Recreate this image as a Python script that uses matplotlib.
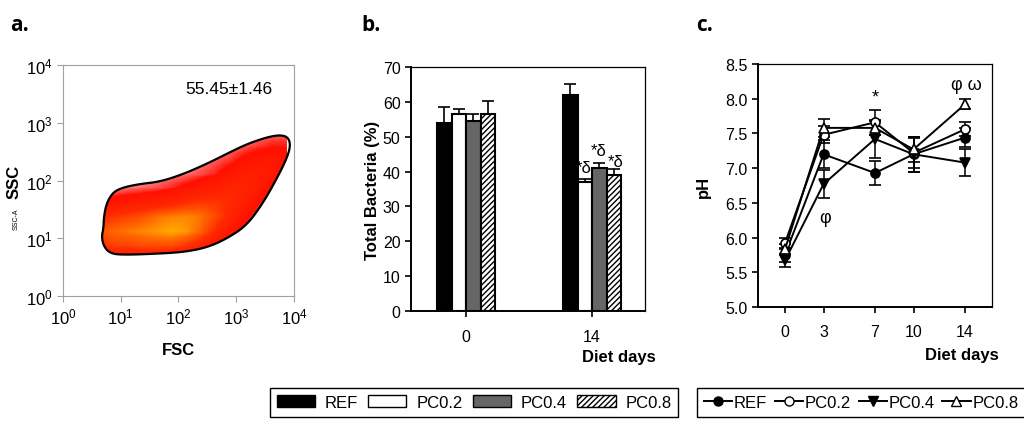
import numpy as np
import matplotlib.pyplot as plt
from matplotlib.colors import LinearSegmentedColormap
from matplotlib.patches import Polygon, Patch
from matplotlib.lines import Line2D

plt.rcParams['font.family'] = ['Liberation Sans', 'DejaVu Sans']
plt.rcParams['hatch.linewidth'] = 1.0

# ---- panel a: gate outline and event density (log10 FSC / log10 SSC)
gate_x = [0.70, 0.67, 0.70, 0.81, 1.04, 1.80, 2.14, 2.49, 2.83, 3.18, 3.47, 3.70, 3.87, 3.94,
          3.90, 3.76, 3.53, 3.18, 2.83, 2.49, 2.08, 1.68, 1.33, 1.04, 0.87, 0.76, 0.71]
gate_y = [1.16, 1.04, 0.87, 0.74, 0.71, 0.74, 0.77, 0.84, 0.99, 1.22, 1.62, 2.03, 2.37, 2.60,
          2.75, 2.79, 2.75, 2.63, 2.46, 2.29, 2.11, 1.98, 1.94, 1.88, 1.80, 1.62, 1.39]
dens_x = [0.625, 0.875, 1.125, 1.375, 1.625, 1.875, 2.125, 2.375, 2.625, 2.875, 3.125, 3.375, 3.625, 3.875]
dens_y = [0.625, 0.875, 1.125, 1.375, 1.625, 1.875, 2.125, 2.375, 2.625, 2.875]
density = [
    [0.20, 0.25, 0.25, 0.25, 0.25, 0.20, 0.15, 0.10, 0.05, 0.00, 0.00, 0.00, 0.00, 0.00],
    [0.55, 0.65, 0.65, 0.70, 0.70, 0.70, 0.60, 0.45, 0.25, 0.10, 0.00, 0.00, 0.00, 0.00],
    [0.70, 0.80, 0.85, 0.90, 0.95, 1.00, 0.95, 0.80, 0.55, 0.30, 0.10, 0.00, 0.00, 0.00],
    [0.50, 0.60, 0.65, 0.72, 0.82, 0.88, 0.90, 0.85, 0.70, 0.50, 0.25, 0.08, 0.00, 0.00],
    [0.18, 0.25, 0.30, 0.35, 0.40, 0.45, 0.55, 0.60, 0.60, 0.55, 0.40, 0.20, 0.05, 0.00],
    [0.00, 0.04, 0.06, 0.08, 0.10, 0.15, 0.22, 0.30, 0.38, 0.45, 0.45, 0.35, 0.15, 0.05],
    [0.00, 0.00, 0.00, 0.00, 0.02, 0.04, 0.06, 0.10, 0.15, 0.25, 0.35, 0.38, 0.30, 0.15],
    [0.00, 0.00, 0.00, 0.00, 0.00, 0.00, 0.02, 0.04, 0.08, 0.12, 0.20, 0.26, 0.28, 0.22],
    [0.00, 0.00, 0.00, 0.00, 0.00, 0.00, 0.00, 0.00, 0.02, 0.04, 0.08, 0.12, 0.16, 0.16],
    [0.00, 0.00, 0.00, 0.00, 0.00, 0.00, 0.00, 0.00, 0.00, 0.00, 0.00, 0.02, 0.05, 0.05],
]
gate_label = '55.45±1.46'

# ---- panel b: total bacteria (%)
diets = ['REF', 'PC0.2', 'PC0.4', 'PC0.8']
bact_days = ['0', '14']
ref_bact = [54.0, 62.0]
pc02_bact = [56.5, 37.0]
pc04_bact = [54.5, 41.0]
pc08_bact = [56.5, 39.0]
ref_bact_err = [4.5, 3.0]
pc02_bact_err = [1.5, 1.0]
pc04_bact_err = [2.0, 1.5]
pc08_bact_err = [3.8, 1.8]

# ---- panel c: pH
days = [0, 3, 7, 10, 14]
ref_ph = [5.75, 7.20, 6.93, 7.20, 7.44]
pc02_ph = [5.92, 7.48, 7.66, 7.22, 7.56]
pc04_ph = [5.67, 6.77, 7.42, 7.20, 7.08]
pc08_ph = [5.83, 7.58, 7.58, 7.27, 7.92]
ref_ph_err = [0.10, 0.20, 0.17, 0.25, 0.14]
pc02_ph_err = [0.08, 0.12, 0.18, 0.22, 0.10]
pc04_ph_err = [0.10, 0.20, 0.28, 0.25, 0.20]
pc08_ph_err = [0.08, 0.13, 0.10, 0.18, 0.07]

fig = plt.figure(figsize=(10.24, 4.39), dpi=100)

# ================= a =================
ax1 = fig.add_axes([0.0615, 0.3235, 0.2256, 0.526])
ax1.set_xscale('log')
ax1.set_yscale('log')
ax1.set_xlim(1, 1e4)
ax1.set_ylim(1, 1e4)

xf = np.linspace(0.45, 4.05, 240)
yf = np.linspace(0.45, 3.1, 180)
dens = np.array(density)
rows = np.array([np.interp(xf, dens_x, r, left=r[0], right=0) for r in dens])
grid = np.array([np.interp(yf, dens_y, rows[:, j], left=rows[0, j], right=0) for j in range(len(xf))]).T
grid = np.ma.masked_less(grid, 0.04)
cmap = LinearSegmentedColormap.from_list('fc', [(0.0, '#ffd0d0'), (0.08, '#ff6060'), (0.18, '#ff1000'),
                                                (0.55, '#ff2a00'), (0.8, '#ff6400'), (1.0, '#ffaa00')])
mesh = ax1.pcolormesh(10 ** xf, 10 ** yf, grid, cmap=cmap, vmin=0, vmax=1, shading='auto', rasterized=True)

# smooth gate outline (Chaikin corner cutting)
pts = np.column_stack([gate_x, gate_y])
for _ in range(3):
    nxt = np.roll(pts, -1, axis=0)
    a = 0.75 * pts + 0.25 * nxt
    b = 0.25 * pts + 0.75 * nxt
    pts = np.stack([a, b], axis=1).reshape(-1, 2)
gate = Polygon(10 ** pts, closed=True, fill=False, edgecolor='black', lw=1.6, zorder=3)
ax1.add_patch(gate)
clip = Polygon(10 ** pts, closed=True, transform=ax1.transData)
mesh.set_clip_path(clip)

for s in ax1.spines.values():
    s.set_color('#a0a0a0')
ax1.tick_params(which='major', color='#a0a0a0', length=4, labelsize=12)
ax1.tick_params(which='minor', length=0)
ax1.set_xticks([1, 10, 100, 1000, 10000])
ax1.set_yticks([1, 10, 100, 1000, 10000])
ax1.text(0.53, 0.9, gate_label, transform=ax1.transAxes, fontsize=12.5, va='center')
ax1.set_xlabel('FSC', fontsize=12, fontweight='bold', labelpad=11)
ax1.set_ylabel('SSC', fontsize=12, fontweight='bold', labelpad=3)
fig.text(0.012, 0.5, 'SSC-A', fontsize=5, rotation=90, va='center')

# ================= b =================
ax2 = fig.add_axes([0.4014, 0.2893, 0.2285, 0.5558])
w = 0.115
xb = np.arange(len(bact_days))
bvals = [ref_bact, pc02_bact, pc04_bact, pc08_bact]
berrs = [ref_bact_err, pc02_bact_err, pc04_bact_err, pc08_bact_err]
faces = ['black', 'white', '#666666', 'white']
hatches = [None, None, None, '//////']
for i in range(4):
    pos = xb + (i - 1.5) * w
    ax2.bar(pos, bvals[i], width=w, color=faces[i], edgecolor='black', lw=1.5, hatch=hatches[i], zorder=2)
    ax2.errorbar(pos, bvals[i], yerr=[[0] * len(xb), berrs[i]], fmt='none', ecolor='black',
                 elinewidth=1.2, capsize=4, capthick=1.2, zorder=1)
ax2.set_xlim(-0.437, 1.42)
ax2.set_ylim(0, 70)
ax2.set_yticks(range(0, 71, 10))
ax2.set_xticks(xb)
ax2.set_xticklabels(bact_days)
ax2.tick_params(labelsize=11.5, length=4, width=1.2)
ax2.tick_params(axis='x', pad=9)
for k in ['left', 'bottom']:
    ax2.spines[k].set_linewidth(1.4)
for k in ['top', 'right']:
    ax2.spines[k].set_linewidth(0.9)
ax2.set_ylabel('Total Bacteria (%)', fontsize=12, fontweight='bold', labelpad=2)
fig.text(0.568, 0.185, 'Diet days', fontsize=12, fontweight='bold', va='center')
for xp, yp in [(0.935, 41.3), (1.055, 46.0), (1.185, 43.0)]:
    ax2.text(xp, yp, '*δ', fontsize=12, ha='center', va='center', zorder=5)

# ================= c =================
ax3 = fig.add_axes([0.7402, 0.2984, 0.2285, 0.5535])
series = [(ref_ph, ref_ph_err, 'o', 'black'), (pc02_ph, pc02_ph_err, 'o', 'white'),
          (pc04_ph, pc04_ph_err, 'v', 'black'), (pc08_ph, pc08_ph_err, '^', 'white')]
handles = []
for (vals, errs, mk, fc), name in zip(series, diets):
    ax3.errorbar(days, vals, yerr=errs, color='black', lw=1.4, marker=mk, markersize=6.5,
                 markerfacecolor=fc, markeredgecolor='black', markeredgewidth=1.2,
                 capsize=4, elinewidth=1.1, capthick=1.1)
    handles.append(Line2D([], [], color='black', lw=1.4, marker=mk, markersize=6.5,
                          markerfacecolor=fc, markeredgecolor='black', label=name))
ax3.set_xlim(-2.1, 16.1)
ax3.set_ylim(5.0, 8.5)
ax3.set_xticks(days)
ax3.set_yticks(np.arange(5.0, 8.51, 0.5))
ax3.set_yticklabels(['%.1f' % v for v in np.arange(5.0, 8.51, 0.5)])
ax3.tick_params(labelsize=11.5, length=4, width=1.2)
ax3.tick_params(axis='x', pad=8)
for k in ['left', 'bottom']:
    ax3.spines[k].set_linewidth(1.4)
for k in ['top', 'right']:
    ax3.spines[k].set_linewidth(0.9)
ax3.set_ylabel('pH', fontsize=12, fontweight='bold', labelpad=10)
fig.text(0.903, 0.19, 'Diet days', fontsize=12, fontweight='bold', va='center')
ax3.text(7, 8.03, '*', fontsize=13, ha='center', va='center')
ax3.text(14.1, 8.2, 'φ ω', fontsize=13, ha='center', va='center')
ax3.text(3.1, 6.29, 'φ', fontsize=13, ha='center', va='center')

# panel letters
for xp, letter in [(0.01, 'a.'), (0.353, 'b.'), (0.68, 'c.')]:
    fig.text(xp, 0.943, letter, fontsize=15, fontweight='bold', va='center', family=['Open Sans', 'DejaVu Sans'])

# legends
bar_handles = [Patch(facecolor=f, edgecolor='black', hatch=h, label=n) for f, h, n in zip(faces, hatches, diets)]
fig.legend(handles=bar_handles, loc='center', bbox_to_anchor=(0.463, 0.081), ncol=4, fontsize=12,
           fancybox=False, edgecolor='black', framealpha=1, handlelength=2.3, handleheight=0.75,
           columnspacing=0.6, handletextpad=0.6, borderpad=0.4, borderaxespad=0)
fig.legend(handles=handles, loc='center', bbox_to_anchor=(0.841, 0.081), ncol=4, fontsize=12,
           fancybox=False, edgecolor='black', framealpha=1, handlelength=1.7,
           columnspacing=0.45, handletextpad=0.1, borderpad=0.4, borderaxespad=0)

fig.savefig('out.png', dpi=100)
